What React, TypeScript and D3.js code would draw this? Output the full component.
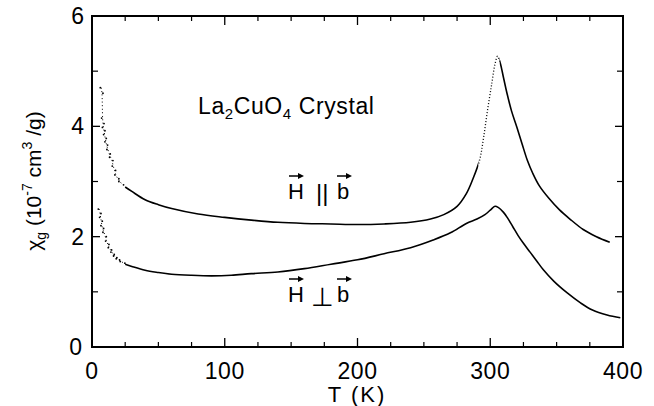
import React from "react";
import * as d3 from "d3";

// ---- data ----
const parT = [25, 30, 40, 50, 60, 80, 100, 120, 140, 160, 180, 200, 220, 240, 255, 265, 275, 282, 287, 292, 295, 298, 301, 303.5, 305.5, 307.5, 310, 312.6, 316, 320, 324, 328, 332, 337, 344, 352, 360, 370, 380, 390];
const parChi = [2.9, 2.82, 2.67, 2.58, 2.51, 2.41, 2.35, 2.3, 2.26, 2.24, 2.23, 2.22, 2.23, 2.26, 2.32, 2.4, 2.55, 2.78, 3.05, 3.39, 3.8, 4.3, 4.75, 5.12, 5.27, 5.15, 4.88, 4.6, 4.28, 3.99, 3.68, 3.38, 3.15, 2.92, 2.7, 2.49, 2.32, 2.13, 2.0, 1.9];

const perpT = [25, 30, 40, 50, 60, 75, 90, 105, 120, 140, 160, 180, 200, 220, 240, 257, 270, 282, 290, 296, 300, 303.6, 306, 310, 313, 317, 321, 325, 330, 335, 340, 348, 358, 368, 377, 388, 398];
const perpChi = [1.5, 1.46, 1.39, 1.35, 1.32, 1.3, 1.29, 1.3, 1.33, 1.36, 1.42, 1.5, 1.58, 1.69, 1.8, 1.94, 2.07, 2.24, 2.32, 2.4, 2.48, 2.55, 2.53, 2.44, 2.34, 2.18, 2.02, 1.88, 1.72, 1.56, 1.4, 1.19, 0.98, 0.8, 0.67, 0.58, 0.53];

const parScatterT = [7, 7.5, 8, 8.3, 8.6, 9, 9.5, 10, 10.5, 11, 12, 13, 14, 15, 16, 17, 18, 19.5, 21, 23];
const parScatterChi = [4.7, 4.6, 4.15, 4.05, 3.98, 3.92, 3.85, 3.78, 3.72, 3.66, 3.58, 3.5, 3.44, 3.38, 3.28, 3.2, 3.12, 3.05, 3.0, 2.94];
const perpScatterT = [5.5, 6, 6.5, 7, 7.5, 8, 9, 10, 11, 12, 13, 14, 15, 16, 17, 18, 19, 20, 22, 24];
const perpScatterChi = [2.5, 2.42, 2.35, 2.28, 2.2, 2.15, 2.08, 2.0, 1.92, 1.86, 1.8, 1.76, 1.72, 1.68, 1.65, 1.62, 1.6, 1.58, 1.55, 1.52];

const xMajorTicks = [0, 100, 200, 300, 400];
const xMinorTicks = [25, 50, 75, 125, 150, 175, 225, 250, 275, 325, 350, 375];
const yMajorTicks = [0, 2, 4, 6];
const yMinorTicks = [1, 3, 5];

const FONT = "'Liberation Sans', Arial, sans-serif";

export default function App() {
  const W = 654, H = 406;
  const x = d3.scaleLinear().domain([0, 400]).range([92, 623]);
  const y = d3.scaleLinear().domain([0, 6]).range([347, 16]);

  const line = d3
    .line<[number, number]>()
    .x((d) => x(d[0]))
    .y((d) => y(d[1]))
    .curve(d3.curveCatmullRom.alpha(0.5));

  const parPts = parT.map((t, i) => [t, parChi[i]] as [number, number]);
  const perpPts = perpT.map((t, i) => [t, perpChi[i]] as [number, number]);
  const parScatter = parScatterT.map((t, i) => [t, parScatterChi[i]] as [number, number]);
  const perpScatter = perpScatterT.map((t, i) => [t, perpScatterChi[i]] as [number, number]);

  const x0 = x(0), x1 = x(400), yTop = y(6), yBot = y(0);
  const dotA = x(291), dotB = x(307);

  const arrow = (cx: number, cy: number, key: string) => (
    <g key={key}>
      <line x1={cx - 7} x2={cx + 5} y1={cy} y2={cy} stroke="#000" strokeWidth={1.5} />
      <path d={`M${cx + 8},${cy} L${cx + 2},${cy - 3} L${cx + 2},${cy + 3} Z`} fill="#000" />
    </g>
  );

  return (
    <svg
      width={W}
      height={H}
      style={{ position: "absolute", left: 0, top: 0, background: "#fff" }}
      fontFamily={FONT}
    >
      <defs>
        <clipPath id="solidClip">
          <rect x={0} y={0} width={dotA} height={H} />
          <rect x={dotB} y={0} width={W - dotB} height={H} />
        </clipPath>
        <clipPath id="dotClip">
          <rect x={dotA} y={0} width={dotB - dotA} height={H} />
        </clipPath>
      </defs>

      {/* frame */}
      <rect x={x0} y={yTop} width={x1 - x0} height={yBot - yTop} fill="none" stroke="#000" strokeWidth={2} />

      {/* x ticks bottom & top */}
      {xMajorTicks.map((t) => (
        <g key={"xM" + t}>
          <line x1={x(t)} x2={x(t)} y1={yBot} y2={yBot - 9} stroke="#000" strokeWidth={1.3} />
          <line x1={x(t)} x2={x(t)} y1={yTop} y2={yTop + 9} stroke="#000" strokeWidth={1.3} />
          <text x={x(t)} y={379} textAnchor="middle" fontSize={23} letterSpacing={0.5}>
            {t}
          </text>
        </g>
      ))}
      {xMinorTicks.map((t) => (
        <g key={"xm" + t}>
          <line x1={x(t)} x2={x(t)} y1={yBot} y2={yBot - 5} stroke="#000" strokeWidth={1.2} />
          <line x1={x(t)} x2={x(t)} y1={yTop} y2={yTop + 5} stroke="#000" strokeWidth={1.2} />
        </g>
      ))}

      {/* y ticks left & right */}
      {yMajorTicks.map((v) => (
        <g key={"yM" + v}>
          <line x1={x0} x2={x0 + 8} y1={y(v)} y2={y(v)} stroke="#000" strokeWidth={1.3} />
          <line x1={x1} x2={x1 - 8} y1={y(v)} y2={y(v)} stroke="#000" strokeWidth={1.3} />
          <text x={v === 0 ? 82 : 84} y={y(v) + 8} textAnchor="end" fontSize={23}>
            {v}
          </text>
        </g>
      ))}
      {yMinorTicks.map((v) => (
        <g key={"ym" + v}>
          <line x1={x0} x2={x0 + 6} y1={y(v)} y2={y(v)} stroke="#000" strokeWidth={1.2} />
          <line x1={x1} x2={x1 - 6} y1={y(v)} y2={y(v)} stroke="#000" strokeWidth={1.2} />
        </g>
      ))}

      {/* axis titles */}
      <text x={357} y={402} textAnchor="middle" fontSize={22} letterSpacing={2}>
        T (K)
      </text>
      <text transform="translate(41,181) rotate(-90)" textAnchor="middle" fontSize={21}>
        χ<tspan fontSize={14} dy={5}>g</tspan>
        <tspan dy={-5}> (10</tspan>
        <tspan fontSize={14} dy={-9}>-7</tspan>
        <tspan dy={9}> cm</tspan>
        <tspan fontSize={14} dy={-9}>3</tspan>
        <tspan dy={9}> /g)</tspan>
      </text>

      {/* curves */}
      <path d={line(parPts) || ""} fill="none" stroke="#000" strokeWidth={1.6} clipPath="url(#solidClip)" />
      <path d={line(parPts) || ""} fill="none" stroke="#000" strokeWidth={1.3} strokeDasharray="1 2" clipPath="url(#dotClip)" />
      <path d={line(perpPts) || ""} fill="none" stroke="#000" strokeWidth={1.6} />

      {parScatter.map((d, i) => (
        <circle key={"ps" + i} cx={x(d[0]) + (i % 2 ? 1 : -1)} cy={y(d[1])} r={0.9} fill="#000" />
      ))}
      {perpScatter.map((d, i) => (
        <circle key={"pp" + i} cx={x(d[0]) + (i % 2 ? 1 : -1)} cy={y(d[1])} r={0.9} fill="#000" />
      ))}
      <path d={line(parScatter) || ""} fill="none" stroke="#000" strokeWidth={1} strokeDasharray="1 2.5" />
      <path d={line(perpScatter) || ""} fill="none" stroke="#000" strokeWidth={1} strokeDasharray="1 2.5" />

      {/* annotations */}
      <text x={198} y={114} fontSize={23} letterSpacing={0.6}>
        La<tspan fontSize={15} dy={5}>2</tspan>
        <tspan dy={-5}>CuO</tspan>
        <tspan fontSize={15} dy={5}>4</tspan>
        <tspan dy={-5}>{"  Crystal"}</tspan>
      </text>

      <text x={288} y={199} fontSize={22}>H</text>
      <text x={316} y={201} fontSize={24}>||</text>
      <text x={337} y={199} fontSize={22}>b</text>
      {arrow(296, 176, "a1")}
      {arrow(344, 176, "a2")}

      <text x={288} y={302} fontSize={22}>H</text>
      <text x={311} y={306} fontSize={26}>⊥</text>
      <text x={337} y={302} fontSize={22}>b</text>
      {arrow(296, 279, "a3")}
      {arrow(344, 279, "a4")}
    </svg>
  );
}
